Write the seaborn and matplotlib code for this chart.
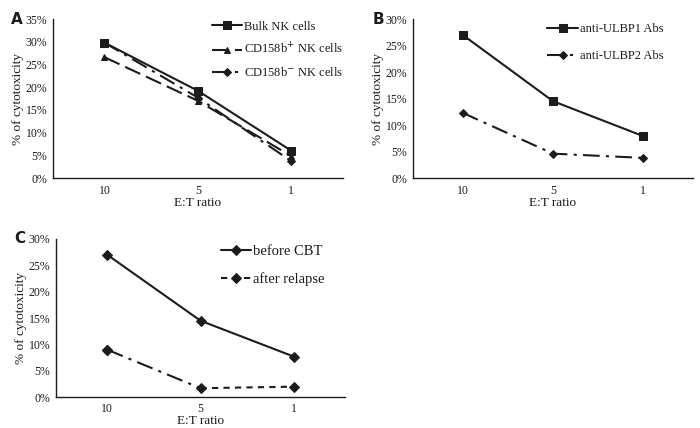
import pandas as pd
import matplotlib.pyplot as plt
import seaborn as sns

# ----------------------------
# Data (% cytotoxicity at each E:T ratio)
# ----------------------------
et_ratio = ["10", "5", "1"]

bulk_nk = [29.8, 19.2, 6.0]
cd158b_pos = [26.6, 17.0, 4.8]
cd158b_neg = [29.8, 17.7, 3.7]

anti_ulbp1 = [27.0, 14.5, 7.9]
anti_ulbp2 = [12.3, 4.6, 3.8]

before_cbt = [27.0, 14.5, 7.7]
after_relapse = [9.0, 1.7, 2.0]

sns.set_theme(style="white")
plt.rcParams["font.family"] = ["Liberation Serif", "DejaVu Serif"]
INK = "#1c1c1c"
plt.rcParams["text.color"] = INK
plt.rcParams["axes.labelcolor"] = INK
plt.rcParams["xtick.color"] = INK
plt.rcParams["ytick.color"] = INK

DASHDOT = (0, (8, 3, 1.5, 3))

fig = plt.figure(figsize=(7, 4.28), dpi=100)
axA = fig.add_axes([0.0757, 0.584, 0.414, 0.3716])
axB = fig.add_axes([0.590, 0.584, 0.400, 0.3716])
axC = fig.add_axes([0.080, 0.072, 0.413, 0.3696])


def draw(ax, y, label, marker, ls, ms=5):
    df = pd.DataFrame({"ratio": et_ratio, "val": y})
    sns.lineplot(data=df, x="ratio", y="val", ax=ax, sort=False, color=INK,
                 marker=marker, markersize=ms, markeredgecolor=INK,
                 linestyle=ls, linewidth=1.5, label=label)


def style_axis(ax, ymax, letter, tpad=5):
    sns.despine(ax=ax)
    for s in ["left", "bottom"]:
        ax.spines[s].set_color(INK)
        ax.spines[s].set_linewidth(1.0)
    ax.set_xlim(-0.55, 2.55)
    ax.set_ylim(0, ymax)
    ax.set_yticks(range(0, ymax + 1, 5))
    ax.set_yticklabels([f"{v}%" for v in range(0, ymax + 1, 5)], fontsize=8.5)
    ax.set_xticks([0, 1, 2])
    ax.set_xticklabels(et_ratio, fontsize=8.5)
    ax.set_xticks([-0.55, 0.5, 1.5, 2.55], minor=True)
    ax.tick_params(axis="x", which="major", length=0, pad=tpad)
    ax.tick_params(axis="x", which="minor", length=3, direction="inout")
    ax.tick_params(axis="y", length=3, direction="out", pad=1)
    ax.set_xlabel("E:T ratio", fontsize=9.5, labelpad=0)
    ax.set_ylabel("% of cytotoxicity", fontsize=9.5, labelpad=1)
    ax.text(-0.125, 1.0, letter, transform=ax.transAxes, fontsize=11,
            fontweight="bold", family="DejaVu Sans", ha="center", va="center")


def place_legend(ax, anchor, size, spacing, hlen):
    ax.legend(loc="upper left", bbox_to_anchor=anchor, frameon=False,
              fontsize=size, handlelength=hlen, handletextpad=0.15,
              labelspacing=spacing, borderpad=0, borderaxespad=0)


# Panel A
draw(axA, bulk_nk, "Bulk NK cells", "s", "-", 6)
draw(axA, cd158b_pos, "CD158b$^{+}$ NK cells", "^", (0, (8, 3)), 5)
draw(axA, cd158b_neg, "CD158b$^{-}$ NK cells", "D", DASHDOT, 4)
style_axis(axA, 35, "A")
place_legend(axA, (0.55, 0.99), 9, 0.72, 2.4)

# Panel B
draw(axB, anti_ulbp1, "anti-ULBP1 Abs", "s", "-", 6)
draw(axB, anti_ulbp2, "anti-ULBP2 Abs", "D", DASHDOT, 4.5)
style_axis(axB, 30, "B")
place_legend(axB, (0.479, 0.975), 9, 1.24, 2.5)

# Panel C: after relapse is dash-dot for 10->5 and dashed for 5->1
draw(axC, before_cbt, "before CBT", "D", "-", 5)
dfc = pd.DataFrame({"ratio": et_ratio, "val": after_relapse})
sns.lineplot(data=dfc.iloc[:2], x="ratio", y="val", ax=axC, sort=False,
             color=INK, linestyle=DASHDOT, linewidth=1.5)
sns.lineplot(data=dfc.iloc[1:], x="ratio", y="val", ax=axC, sort=False,
             color=INK, linestyle=(0, (3, 2.5)), linewidth=1.5,
             marker="D", markersize=5, markeredgecolor=INK,
             label="after relapse")
axC.plot(0, after_relapse[0], marker="D", markersize=5, color=INK)
style_axis(axC, 30, "C", tpad=4)
place_legend(axC, (0.572, 0.965), 10.5, 1.0, 2.05)

fig.savefig("out.png", dpi=100, facecolor="white")
